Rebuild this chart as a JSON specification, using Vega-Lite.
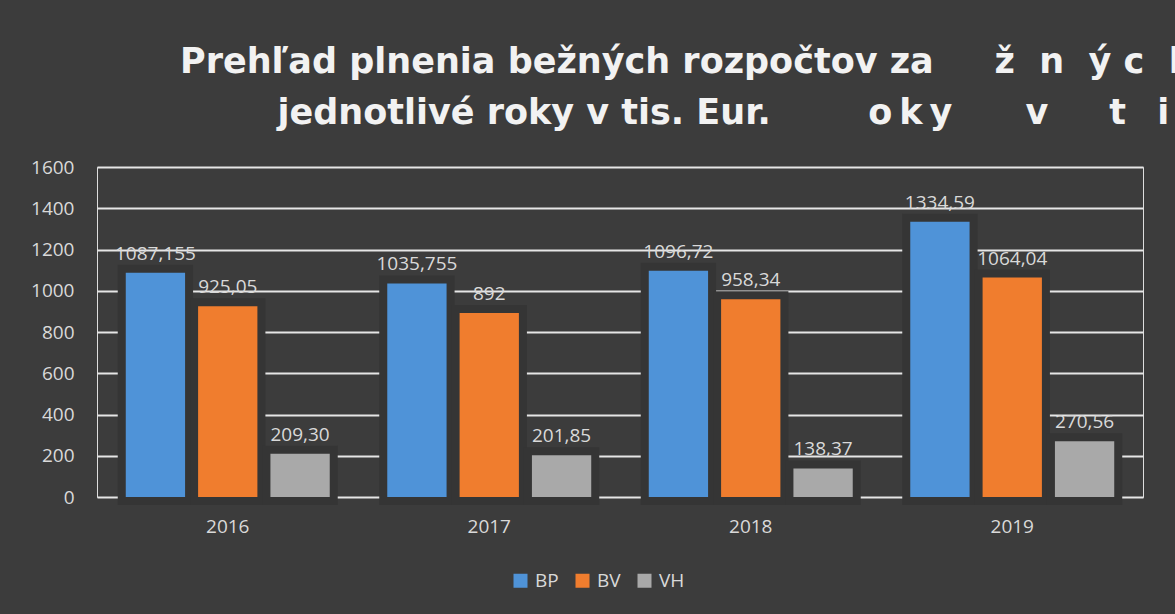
{
  "$schema": "https://vega.github.io/schema/vega-lite/v6.json",
  "autosize": {"type": "none"},
  "width": 1046,
  "height": 330,
  "padding": {"left": 97, "top": 167, "right": 32, "bottom": 117},
  "background": "#3c3c3c",
  "title": {
    "text": [
      "Prehľad plnenia bežných rozpočtov za\u00a0\u00a0\u00a0\u00a0\u00a0ž\u00a0\u00a0n\u00a0\u00a0ý\u00a0c\u00a0\u00a0h",
      "\u200b\u00a0\u00a0\u00a0\u00a0\u00a0\u00a0\u00a0\u00a0jednotlivé roky v tis. Eur.\u00a0\u00a0\u00a0\u00a0\u00a0\u00a0\u00a0\u00a0o\u2009k\u2009y\u00a0\u00a0\u00a0\u00a0\u00a0\u00a0v\u00a0\u00a0\u00a0\u00a0\u00a0t\u00a0\u00a0\u2009i"
    ],
    "anchor": "start",
    "frame": "group",
    "align": "left",
    "dx": 83,
    "offset": 27,
    "font": "DejaVu Sans",
    "fontSize": 35,
    "fontWeight": "bold",
    "color": "#f2f2f2",
    "lineHeight": 51
  },
  "data": {
    "values": [
      {"year": "2016", "series": "BP", "value": 1087.155, "label": "1087,155"},
      {"year": "2016", "series": "BV", "value": 925.05, "label": "925,05"},
      {"year": "2016", "series": "VH", "value": 209.30, "label": "209,30"},
      {"year": "2017", "series": "BP", "value": 1035.755, "label": "1035,755"},
      {"year": "2017", "series": "BV", "value": 892, "label": "892"},
      {"year": "2017", "series": "VH", "value": 201.85, "label": "201,85"},
      {"year": "2018", "series": "BP", "value": 1096.72, "label": "1096,72"},
      {"year": "2018", "series": "BV", "value": 958.34, "label": "958,34"},
      {"year": "2018", "series": "VH", "value": 138.37, "label": "138,37"},
      {"year": "2019", "series": "BP", "value": 1334.59, "label": "1334,59"},
      {"year": "2019", "series": "BV", "value": 1064.04, "label": "1064,04"},
      {"year": "2019", "series": "VH", "value": 270.56, "label": "270,56"}
    ]
  },
  "encoding": {
    "x": {
      "field": "year",
      "type": "nominal",
      "title": null,
      "scale": {"paddingInner": 0.22, "paddingOuter": 0.11},
      "axis": {
        "labelAngle": 0,
        "ticks": false,
        "domain": false,
        "labelPadding": 20,
        "labelFontSize": 19,
        "labelFont": "Open Sans",
        "labelColor": "#d9d9d9"
      }
    },
    "xOffset": {
      "field": "series",
      "type": "nominal",
      "scale": {"paddingInner": 0.18, "paddingOuter": 0}
    },
    "y": {
      "field": "value",
      "type": "quantitative",
      "title": null,
      "scale": {"domain": [0, 1600], "nice": false},
      "axis": {
        "values": [0, 200, 400, 600, 800, 1000, 1200, 1400, 1600],
        "format": "d",
        "ticks": false,
        "domain": false,
        "labelPadding": 23,
        "labelFontSize": 19,
        "labelFont": "Open Sans",
        "labelColor": "#d9d9d9",
        "gridColor": "#e6e6e6",
        "gridWidth": 2,
        "gridOpacity": 1
      }
    }
  },
  "layer": [
    {
      "mark": {
        "type": "bar",
        "color": "#353535",
        "stroke": "#353535",
        "strokeWidth": 16,
        "strokeJoin": "miter"
      }
    },
    {
      "mark": {"type": "bar"},
      "encoding": {
        "color": {
          "field": "series",
          "type": "nominal",
          "title": null,
          "scale": {"domain": ["BP", "BV", "VH"], "range": ["#4f93d8", "#f07d2e", "#a9a9a9"]},
          "legend": {
            "orient": "none",
            "legendX": 414,
            "legendY": 404,
            "direction": "horizontal",
            "symbolType": "square",
            "symbolSize": 196,
            "symbolStrokeWidth": 0,
            "labelFontSize": 19,
            "labelFont": "Open Sans",
            "labelColor": "#d9d9d9",
            "labelOffset": 5,
            "columnPadding": 14
          }
        }
      }
    },
    {
      "mark": {
        "type": "text",
        "baseline": "bottom",
        "dy": -9,
        "fontSize": 19,
        "font": "Open Sans",
        "color": "#d9d9d9"
      },
      "encoding": {"text": {"field": "label", "type": "nominal"}}
    }
  ]
}
